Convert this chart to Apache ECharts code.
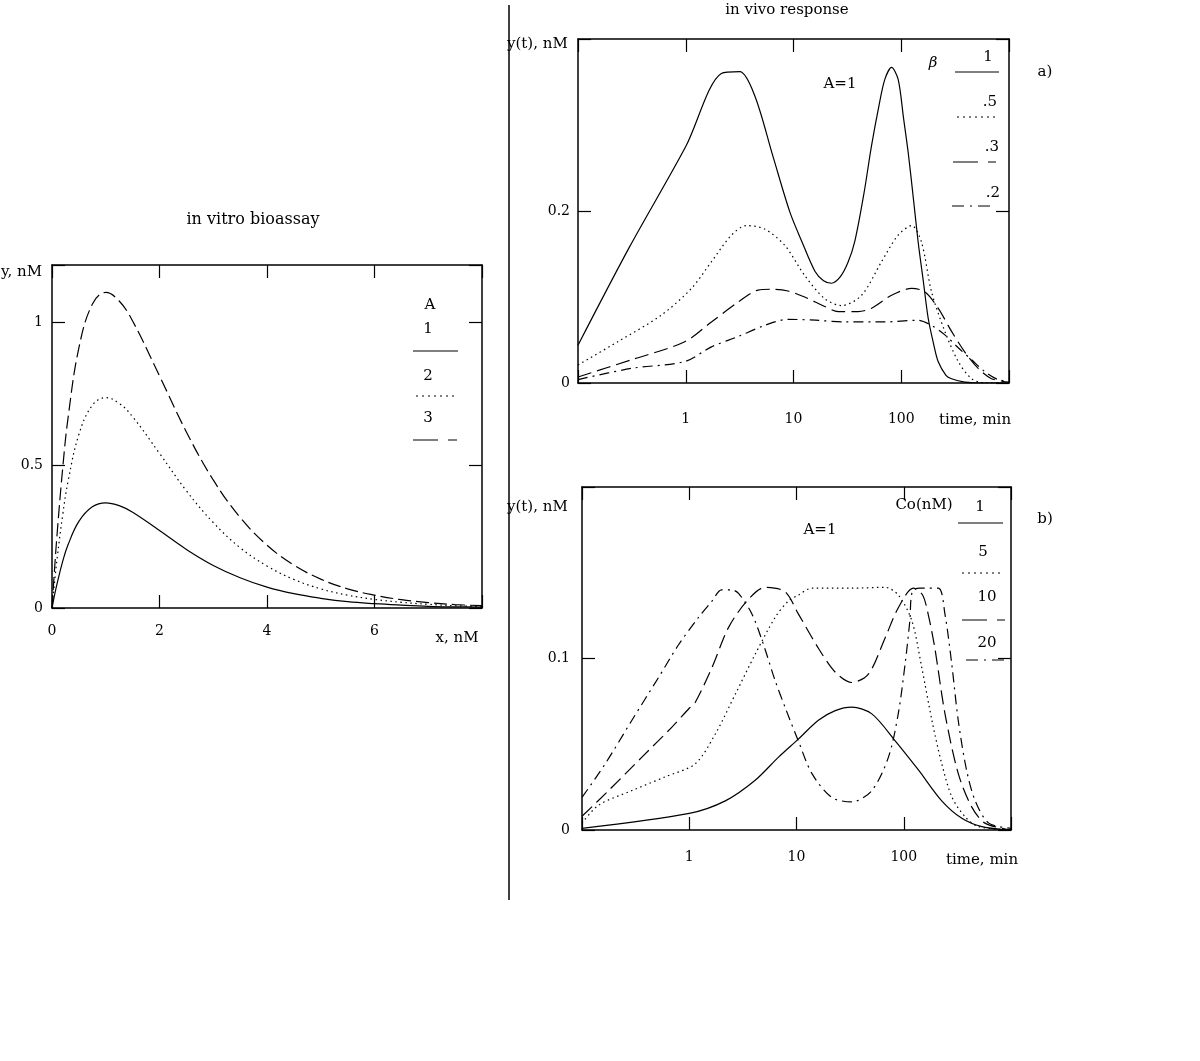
<!DOCTYPE html>
<html>
<head>
<meta charset="utf-8">
<script src="https://cdn.jsdelivr.net/npm/echarts@6/dist/echarts.min.js"></script>
<style>
html,body{margin:0;padding:0;background:#fff;}
#c{width:1200px;height:1061px;}
</style>
</head>
<body>
<div id="c"></div>
<script>
// ---------- in vitro bioassay (y vs x) ----------
var vitroX = [0, 0.05, 0.1, 0.2, 0.3, 0.5, 0.75, 1, 1.25, 1.5, 2, 2.5, 3, 3.5, 4, 4.5, 5, 5.5, 6, 6.5, 7, 7.5, 8];
var vitroA1 = [0, 0.048, 0.09, 0.164, 0.222, 0.303, 0.354, 0.368, 0.358, 0.335, 0.271, 0.205, 0.149, 0.106, 0.073, 0.050, 0.034, 0.022, 0.015, 0.010, 0.006, 0.004, 0.003];
var vitroA2 = [0, 0.095, 0.181, 0.327, 0.444, 0.607, 0.709, 0.736, 0.716, 0.669, 0.541, 0.410, 0.299, 0.211, 0.147, 0.100, 0.067, 0.045, 0.030, 0.020, 0.013, 0.008, 0.005];
var vitroA3 = [0, 0.143, 0.271, 0.491, 0.667, 0.910, 1.063, 1.104, 1.074, 1.004, 0.812, 0.616, 0.448, 0.317, 0.220, 0.150, 0.101, 0.067, 0.045, 0.029, 0.019, 0.012, 0.008];
var vitroLegend = ['1', '2', '3'];

// ---------- in vivo response a) beta series (time, min) ----------
var beta1T = [0.1, 0.3, 1, 2.14, 3.17, 4.37, 6.5, 9.24, 12, 15.8, 19, 22.5, 27, 32, 37.1, 45, 53, 62, 70.4, 81.3, 93.6, 105, 116, 130, 143.5, 160, 178, 200, 220, 260, 293, 389, 600, 1000];
var beta1Y = [0.044, 0.158, 0.275, 0.360, 0.362, 0.334, 0.262, 0.199, 0.164, 0.130, 0.119, 0.116, 0.123, 0.140, 0.165, 0.220, 0.276, 0.322, 0.353, 0.367, 0.353, 0.308, 0.268, 0.213, 0.164, 0.119, 0.075, 0.045, 0.025, 0.009, 0.005, 0.001, 0, 0];
var beta5T = [0.1, 0.234, 0.594, 1.13, 1.73, 2.66, 3.66, 5.41, 8.3, 12.7, 19.5, 27.9, 42.8, 65.6, 93.6, 125, 154, 191, 254, 338, 450, 600, 1000];
var beta5Y = [0.021, 0.048, 0.079, 0.110, 0.141, 0.172, 0.183, 0.179, 0.160, 0.125, 0.098, 0.090, 0.102, 0.141, 0.172, 0.183, 0.164, 0.106, 0.060, 0.025, 0.005, 0.0, 0];
var beta3T = [0.1, 0.313, 0.98, 1.73, 3.06, 4.69, 6.5, 8.9, 12.7, 19.5, 26, 39.8, 53, 81.3, 125, 166, 220, 293, 389, 518, 688, 1000];
var beta3Y = [0.007, 0.027, 0.048, 0.071, 0.094, 0.108, 0.109, 0.107, 0.100, 0.089, 0.083, 0.083, 0.087, 0.102, 0.110, 0.106, 0.087, 0.060, 0.036, 0.017, 0.005, 0.001];
var beta2T = [0.1, 0.313, 0.98, 1.73, 3.06, 5.41, 8.9, 16, 30, 70, 143, 191, 254, 338, 450, 600, 790, 1000];
var beta2Y = [0.004, 0.017, 0.025, 0.042, 0.054, 0.067, 0.074, 0.073, 0.071, 0.071, 0.073, 0.067, 0.056, 0.041, 0.027, 0.013, 0.004, 0.002];
var betaLegend = ['1', '.5', '.3', '.2'];

// ---------- in vivo response b) Co series ----------
var co1T = [0.1, 1, 2.17, 4.12, 6.8, 10.4, 16, 23, 32.8, 50.4, 83.2, 137, 226, 348, 534, 1000];
var co1Y = [0.001, 0.0097, 0.017, 0.029, 0.0425, 0.053, 0.064, 0.0696, 0.0716, 0.0677, 0.052, 0.035, 0.017, 0.0068, 0.002, 0];
var co5T = [0.1, 0.143, 0.292, 0.597, 1.14, 1.75, 2.68, 4.12, 6.33, 8.4, 10.4, 13.9, 32.8, 67, 89, 119, 147, 183, 226, 281, 373, 497, 1000];
var co5Y = [0.004, 0.0145, 0.023, 0.031, 0.0387, 0.056, 0.079, 0.1025, 0.124, 0.1335, 0.137, 0.141, 0.141, 0.1415, 0.137, 0.122, 0.095, 0.064, 0.0387, 0.0193, 0.0077, 0.002, 0];
var co10T = [0.1, 0.177, 0.362, 0.69, 1.0, 1.14, 1.63, 2.32, 3.45, 5.1, 7.8, 10.4, 16, 23, 32.8, 47, 67, 89, 123, 150, 170, 195, 242, 322, 430, 572, 1000];
var co10Y = [0.008, 0.023, 0.0425, 0.06, 0.071, 0.0745, 0.0948, 0.118, 0.1335, 0.1415, 0.139, 0.126, 0.106, 0.092, 0.086, 0.091, 0.112, 0.1296, 0.141, 0.137, 0.125, 0.106, 0.068, 0.033, 0.0135, 0.004, 0];
var co20T = [0.1, 0.165, 0.292, 0.518, 0.795, 1.22, 1.63, 2.0, 2.5, 2.88, 3.84, 4.93, 6.33, 8.0, 10.4, 13.9, 21.3, 32.8, 50.4, 72, 89, 103, 114, 120, 140, 210, 242, 280, 322, 385, 464, 620, 1000];
var co20Y = [0.019, 0.0387, 0.064, 0.089, 0.108, 0.124, 0.1335, 0.140, 0.140, 0.138, 0.126, 0.108, 0.087, 0.07, 0.052, 0.033, 0.019, 0.0164, 0.023, 0.0425, 0.068, 0.097, 0.122, 0.139, 0.141, 0.141, 0.126, 0.097, 0.064, 0.035, 0.017, 0.004, 0.001];
var coLegend = ['1', '5', '10', '20'];

// tick labels shown
var vitroXTicks = [0, 2, 4, 6];
var vitroYTicks = [0, 0.5, 1];
var logTicks = [1, 10, 100];
var vivoAYTicks = [0, 0.2];
var vivoBYTicks = [0, 0.1];

function pairs(t, y) { return t.map(function (v, i) { return [v, y[i]]; }); }
function pick(list) {
  return function (v) {
    var r = Math.round(v * 1000) / 1000;
    return list.indexOf(r) >= 0 ? String(r) : '';
  };
}

var FONT = 'DejaVu Serif';
var BLK = '#000';
var DOT = [1.5, 3.5], DASH = [13, 5], DASHDOT = [10, 5, 2, 5];

var axisLine = { show: true, onZero: false, lineStyle: { color: BLK, width: 1.5 } };
var tickIn = { show: true, inside: true, length: 13, lineStyle: { color: BLK, width: 1.2 } };
var lblStyle = { color: BLK, fontFamily: FONT, fontSize: 14 };

function xAx(grid, type, extra, pos, labels, margin) {
  var a = {
    gridIndex: grid, type: type, position: pos,
    axisLine: axisLine, axisTick: tickIn, splitLine: { show: false },
    axisLabel: labels ? Object.assign({ formatter: pick(labels), margin: margin }, lblStyle) : { show: false }
  };
  return Object.assign(a, extra);
}
function yAx(grid, extra, pos, labels, margin) {
  var a = {
    gridIndex: grid, type: 'value', position: pos,
    axisLine: axisLine, axisTick: tickIn, splitLine: { show: false },
    axisLabel: labels ? Object.assign({ formatter: pick(labels), margin: margin }, lblStyle) : { show: false }
  };
  return Object.assign(a, extra);
}

var linX = { min: 0, max: 8, interval: 2 };
var logX = { logBase: 10, min: 0.1, max: 1000 };

function ser(name, xi, yi, data, dash, smooth) {
  return {
    name: name, type: 'line', xAxisIndex: xi, yAxisIndex: yi, data: data,
    showSymbol: false, symbol: 'none', smooth: smooth, animation: false,
    lineStyle: { color: BLK, width: 1.2, type: dash || 'solid' }
  };
}

function txt(x, y, s, opts) {
  opts = opts || {};
  return {
    type: 'text', x: x, y: y, silent: true,
    style: {
      text: s, fill: BLK, fontFamily: FONT, fontSize: opts.size || 15,
      fontStyle: opts.italic ? 'italic' : 'normal',
      textAlign: opts.align || 'center', textVerticalAlign: 'middle'
    }
  };
}
function seg(x1, x2, y, dash) {
  return {
    type: 'line', silent: true,
    shape: { x1: x1, y1: y, x2: x2, y2: y },
    style: { stroke: BLK, lineWidth: 1.2, lineDash: dash || null }
  };
}

var graphics = [
  { type: 'line', silent: true, shape: { x1: 509, y1: 5, x2: 509, y2: 900 }, style: { stroke: BLK, lineWidth: 1.5 } },
  txt(253, 220, 'in vitro bioassay', { size: 16 }),
  txt(787, 10, 'in vivo response'),
  txt(1, 272, 'y, nM', { align: 'left' }),
  txt(457, 638, 'x, nM'),
  txt(507, 44, 'y(t), nM', { align: 'left' }),
  txt(975, 420, 'time, min'),
  txt(507, 507, 'y(t), nM', { align: 'left' }),
  txt(982, 860, 'time, min'),
  txt(840, 84, 'A=1'),
  txt(820, 530, 'A=1'),
  txt(1045, 72, 'a)'),
  txt(1045, 519, 'b)'),
  // left legend
  txt(430, 305, 'A'),
  txt(428, 329, vitroLegend[0]), seg(413, 458, 351),
  txt(428, 376, vitroLegend[1]), seg(416, 456, 396, [2, 4]),
  txt(428, 418, vitroLegend[2]), seg(413, 457, 440, [25, 10]),
  // top right legend
  txt(933, 63, 'β', { italic: true }),
  txt(988, 57, betaLegend[0]), seg(955, 999, 72),
  txt(990, 102, betaLegend[1]), seg(957, 997, 117, [2, 4]),
  txt(992, 147, betaLegend[2]), seg(953, 996, 162, [25, 10]),
  txt(993, 193, betaLegend[3]), seg(952, 995, 206, [12, 6, 2, 6]),
  // bottom right legend
  txt(924, 505, 'Co(nM)'),
  txt(980, 507, coLegend[0]), seg(958, 1003, 523),
  txt(983, 552, coLegend[1]), seg(962, 1000, 573, [2, 4]),
  txt(987, 597, coLegend[2]), seg(962, 1005, 620, [25, 10]),
  txt(987, 643, coLegend[3]), seg(966, 1008, 660, [12, 6, 2, 6])
];

var option = {
  animation: false,
  backgroundColor: '#fff',
  grid: [
    { left: 52, top: 265, width: 430, height: 343, containLabel: false },
    { left: 578, top: 39, width: 431, height: 344, containLabel: false },
    { left: 582, top: 487, width: 429, height: 343, containLabel: false }
  ],
  xAxis: [
    xAx(0, 'value', linX, 'bottom', vitroXTicks, 16),
    xAx(0, 'value', linX, 'top', null),
    xAx(1, 'log', logX, 'bottom', logTicks, 29),
    xAx(1, 'log', logX, 'top', null),
    xAx(2, 'log', logX, 'bottom', logTicks, 20),
    xAx(2, 'log', logX, 'top', null)
  ],
  yAxis: [
    yAx(0, { min: 0, max: 1.2, interval: 0.5 }, 'left', vitroYTicks, 9),
    yAx(0, { min: 0, max: 1.2, interval: 0.5 }, 'right', null),
    yAx(1, { min: 0, max: 0.4, interval: 0.2 }, 'left', vivoAYTicks, 8),
    yAx(1, { min: 0, max: 0.4, interval: 0.2 }, 'right', null),
    yAx(2, { min: 0, max: 0.2, interval: 0.1 }, 'left', vivoBYTicks, 12),
    yAx(2, { min: 0, max: 0.2, interval: 0.1 }, 'right', null)
  ],
  series: [
    ser('A=1', 0, 0, pairs(vitroX, vitroA1), 'solid', 0.4),
    ser('A=2', 0, 0, pairs(vitroX, vitroA2), DOT, 0.4),
    ser('A=3', 0, 0, pairs(vitroX, vitroA3), DASH, 0.4),
    ser('beta=1', 2, 2, pairs(beta1T, beta1Y), 'solid', 0.3),
    ser('beta=.5', 2, 2, pairs(beta5T, beta5Y), DOT, 0.3),
    ser('beta=.3', 2, 2, pairs(beta3T, beta3Y), [14, 6], 0.3),
    ser('beta=.2', 2, 2, pairs(beta2T, beta2Y), DASHDOT, 0.3),
    ser('Co=1', 4, 4, pairs(co1T, co1Y), 'solid', 0.3),
    ser('Co=5', 4, 4, pairs(co5T, co5Y), DOT, 0.3),
    ser('Co=10', 4, 4, pairs(co10T, co10Y), [14, 6], 0.3),
    ser('Co=20', 4, 4, pairs(co20T, co20Y), DASHDOT, 0.3)
  ],
  graphic: graphics
};

var chart = echarts.init(document.getElementById('c'), null, { renderer: 'canvas' });
chart.setOption(option);
</script>
</body>
</html>
